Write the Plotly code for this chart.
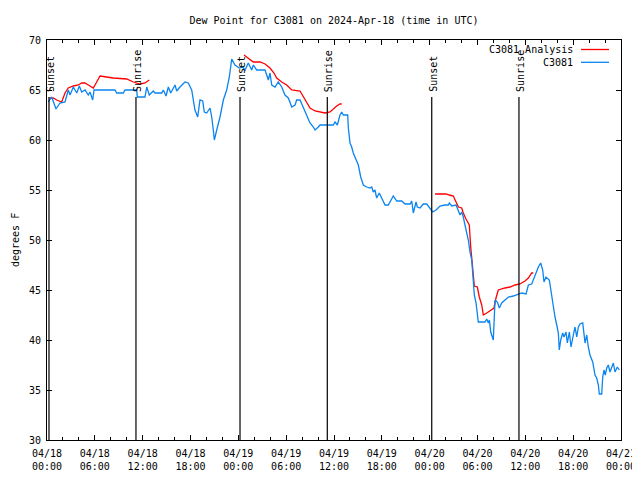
import datetime as dt
import plotly.graph_objects as go

# ---------------- data ----------------
START = dt.datetime(2024, 4, 18, 0, 0)

# Observed dew point (C3081): hours since 2024-04-18 00:00 UTC, degrees F
obs_hours = [0.16, 0.59, 1.13, 1.63, 2.26, 2.67, 2.89, 3.30, 3.73, 4.05, 4.35, 4.77, 5.18, 5.39, 5.73, 5.90,
             8.53, 8.74, 9.57, 9.78, 11.25, 11.33, 12.29, 12.51, 12.83, 13.33, 13.55, 14.39, 14.59, 14.93,
             15.22, 15.52, 16.06, 16.27, 16.68, 17.31, 17.72, 18.15, 18.56, 18.90, 19.19, 19.53, 19.73,
             20.03, 20.45, 20.66, 20.86, 20.99, 21.29, 21.70, 22.12, 22.54, 22.87, 23.17, 23.58, 24.12,
             24.55, 24.84, 25.25, 25.68, 25.88, 26.30, 27.35, 27.56, 27.76, 27.97, 28.19, 28.60, 29.01,
             29.44, 29.85, 30.27, 30.70, 31.11, 31.32, 31.74, 32.15, 32.58, 32.99, 33.41, 33.62, 34.03,
             34.25, 35.91, 36.13, 36.42, 36.75, 36.97, 37.17, 37.72, 37.80, 38.01, 38.22, 38.42, 38.85,
             39.05, 39.35, 39.68, 40.10, 40.52, 40.73, 40.93, 41.14, 41.35, 41.68, 41.98, 42.40, 42.81,
             43.24, 43.44, 43.87, 44.49, 44.91, 45.54, 45.75, 45.95, 46.29, 46.45, 46.79, 47.20, 47.63,
             47.96, 48.38, 48.80, 49.30, 49.93, 50.34, 50.47, 50.77, 51.31, 51.60, 51.81, 52.02, 52.22,
             52.43, 52.65, 52.85, 53.06, 53.28, 53.40, 53.48, 53.60, 53.82, 54.10, 54.94, 55.16, 55.36,
             55.49, 55.66, 55.98, 56.20, 56.49, 56.74, 57.04, 57.45, 57.87, 58.49, 59.12, 59.55, 60.09,
             60.38, 60.80, 61.21, 61.63, 61.93, 62.18, 62.34, 62.59, 63.01, 63.31, 63.51, 63.72, 63.94,
             64.14, 64.26, 64.44, 64.69, 64.85, 65.10, 65.27, 65.52, 65.73, 66.02, 66.23, 66.45, 66.65,
             66.86, 67.20, 67.49, 67.70, 67.90, 68.11, 68.45, 68.74, 68.95, 69.16, 69.28, 69.58, 69.71,
             69.87, 70.03, 70.21, 70.41, 70.62, 71.04, 71.25, 71.54, 71.79]
obs_dewpt = [63.8, 64.3, 63.1, 63.7, 63.8, 65.0, 64.5, 65.3, 64.7, 65.4, 64.8, 65.0, 64.5, 64.8, 64.0, 65.0,
             65.0, 64.7, 64.7, 65.0, 65.0, 64.3, 64.3, 65.3, 64.5, 64.9, 64.7, 64.7, 65.0, 64.4,
             65.3, 64.7, 65.5, 64.9, 65.3, 65.8, 65.7, 65.0, 63.0, 62.3, 64.0, 63.9, 62.8,
             62.7, 63.2, 62.3, 61.0, 60.0, 61.0, 62.3, 64.0, 65.0, 66.3, 68.1, 67.5, 67.2,
             67.3, 67.0, 67.7, 67.0, 67.5, 67.0, 67.0, 66.5, 66.0, 66.7, 65.5, 65.3, 65.8,
             65.3, 64.5, 64.2, 63.3, 63.5, 64.0, 64.0, 63.2, 62.5, 61.7, 61.3, 61.0, 61.3,
             61.5, 61.5, 61.8, 61.5, 62.5, 62.8, 62.5, 62.5, 61.2, 59.7, 59.3, 58.7, 57.8,
             57.5, 56.3, 55.5, 55.3, 55.2, 55.3, 54.8, 55.0, 54.2, 54.7, 54.2, 53.5, 53.5,
             54.2, 54.4, 53.9, 53.9, 53.6, 53.6, 53.9, 52.7, 53.8, 53.3, 53.2, 53.6, 53.6,
             53.2, 52.8, 53.0, 53.4, 53.5, 53.5, 53.7, 53.4, 53.5, 52.9, 52.5, 52.8, 52.3,
             51.5, 50.8, 50.0, 48.8, 48.0, 46.7, 45.5, 44.5, 43.7, 41.8, 41.8, 42.1, 41.7,
             42.0, 40.8, 40.0, 44.0, 43.8, 43.2, 43.7, 44.0, 44.3, 44.4, 44.6, 44.7, 44.6,
             45.5, 45.6, 46.5, 47.3, 47.7, 47.0, 45.8, 46.3, 46.0, 44.3, 43.2, 42.3, 41.5,
             40.7, 39.0, 40.0, 40.7, 40.3, 40.8, 39.7, 40.8, 39.3, 40.5, 41.3, 40.3, 41.3,
             41.6, 41.7, 39.7, 40.5, 39.3, 38.5, 37.8, 36.5, 36.2, 35.5, 34.6, 34.6, 36.3,
             37.0, 36.5, 37.2, 37.5, 36.8, 37.7, 36.8, 37.3, 37.0]

# Analysis dew point (C3081 Analysis); None marks a gap between runs
ana_hours = [0.29, 0.79, 1.22, 1.84, 2.26, 2.67, 3.30, 3.93, 4.35, 4.77, 5.18, 5.81, 6.23, 6.65, 7.49,
             8.32, 10.00, 10.83, 11.67, 12.29, 12.83, None,
             24.71, 25.25, 25.88, 26.72, 27.35, 27.97, 28.47, 28.81, 29.44, 30.07, 30.70, 31.74, 32.15,
             32.58, 32.99, 33.62, 34.25, 34.87, 35.50, 35.91, 36.34, 36.75, 36.97, None,
             48.67, 50.05, 50.47, 50.97, 51.31, 51.60, 52.02, 52.22, 52.56, 52.77, 52.97, 53.15, 53.40,
             53.60, 53.98, 54.23, 54.53, 54.73, 55.16, 55.57, 56.07, 56.32, 56.61, 57.45, 58.08, 58.70,
             59.33, 59.96, 60.38, 60.80, 61.00]
ana_dewpt = [64.2, 64.2, 64.0, 63.8, 64.7, 65.2, 65.4, 65.5, 65.7, 65.7, 65.5, 65.2, 65.8, 66.4, 66.3,
             66.2, 66.1, 65.8, 65.6, 65.7, 66.0, None,
             68.5, 68.2, 67.8, 67.8, 67.6, 67.2, 66.7, 66.2, 65.8, 65.5, 65.0, 64.9, 64.3,
             63.7, 63.2, 62.9, 62.8, 62.7, 62.8, 63.1, 63.4, 63.6, 63.6, None,
             54.6, 54.6, 54.5, 54.4, 53.8, 53.3, 53.2, 52.7, 52.1, 51.7, 51.5, 49.3, 47.3,
             45.4, 45.3, 44.3, 43.5, 42.5, 42.7, 42.9, 43.2, 44.2, 45.0, 45.2, 45.3, 45.5,
             45.6, 45.9, 46.2, 46.7, 46.7]

# Sun events (hours since start)
sun_hours = [0.25, 11.16, 24.21, 35.16, 48.26, 59.20]
sun_labels = ["Sunset", "Sunrise", "Sunset", "Sunrise", "Sunset", "Sunrise"]
sun_line_top = 64.3
sun_label_base = 64.6

series_names = ["C3081 Analysis", "C3081"]
series_colors = ["#ff0000", "#0a84f0"]

y_range = [30, 70]
x_start = START
x_end = START + dt.timedelta(hours=72)


def to_time(hours):
    return [START + dt.timedelta(hours=h) if h is not None else None for h in hours]


FONT = "DejaVu Sans Mono"

fig = go.Figure()
fig.add_trace(go.Scatter(x=to_time(ana_hours), y=ana_dewpt, mode="lines", name=series_names[0],
                         line=dict(color=series_colors[0], width=1.3), connectgaps=False))
fig.add_trace(go.Scatter(x=to_time(obs_hours), y=obs_dewpt, mode="lines", name=series_names[1],
                         line=dict(color=series_colors[1], width=1.3)))

shapes = []
annotations = []
for t, lab in zip(to_time(sun_hours), sun_labels):
    shapes.append(dict(type="line", xref="x", yref="y", x0=t, x1=t, y0=y_range[0], y1=sun_line_top,
                       line=dict(color="black", width=1.2)))
    annotations.append(dict(x=t, y=sun_label_base, xref="x", yref="y", text=lab, textangle=-90,
                            showarrow=False, xanchor="center", yanchor="bottom", xshift=1,
                            font=dict(family=FONT, size=10, color="black")))

# Page is rendered with an 8px body margin: compensate so the plot area
# lands at page x 47..621, y 40..440.
OFF = 8
PAGE_W, PAGE_H = 640, 480
W, H = PAGE_W - OFF, PAGE_H - OFF
PL, PR, PT, PB = 47, 621, 40, 440          # plot area in page pixels
L, T = PL - OFF, PT - OFF
R, B = W - (PR - OFF), H - (PB - OFF)
pw, ph = PR - PL, PB - PT


def px(xp):
    return (xp - PL) / pw


def py(yp):
    return 1 - (yp - PT) / ph


leg_rows = [49.5, 62.3]
for name, color, yp in zip(series_names, series_colors, leg_rows):
    annotations.append(dict(x=px(575), y=py(yp), xref="paper", yref="paper", text=name, showarrow=False,
                            xanchor="right", yanchor="middle", font=dict(family=FONT, size=10, color="black")))
    shapes.append(dict(type="line", xref="paper", yref="paper", x0=px(581), x1=px(609), y0=py(yp), y1=py(yp),
                       line=dict(color=color, width=1.3)))

annotations.append(dict(x=px(15), y=0.5, xref="paper", yref="paper", text="degrees F", textangle=-90,
                        showarrow=False, xanchor="center", yanchor="middle",
                        font=dict(family=FONT, size=10, color="black")))

fig.update_layout(
    width=W, height=H,
    margin=dict(l=L, r=R, t=T, b=B, autoexpand=False),
    paper_bgcolor="white", plot_bgcolor="white",
    showlegend=False,
    font=dict(family=FONT, size=10, color="black"),
    title=dict(text="Dew Point for C3081 on 2024-Apr-18 (time in UTC)", x=px(334), xref="paper",
               xanchor="center", y=1 - (20 - OFF) / H, yanchor="middle",
               font=dict(family=FONT, size=10, color="black")),
    shapes=shapes,
    annotations=annotations,
)
fig.update_xaxes(
    range=[x_start, x_end], type="date",
    dtick=6 * 3600 * 1000, tick0=x_start, tickformat="%m/%d<br>%H:%M",
    ticks="inside", ticklen=5, tickcolor="black", tickwidth=1,
    minor=dict(dtick=2 * 3600 * 1000, ticks="inside", ticklen=3, tickcolor="black", showgrid=False),
    showline=True, linecolor="black", linewidth=1, mirror="allticks",
    showgrid=False, zeroline=False, ticklabelstandoff=4, ticklabeloverflow="allow",
    tickfont=dict(family=FONT, size=10, color="black"),
)
fig.update_yaxes(
    range=y_range, dtick=5, tick0=30,
    ticks="inside", ticklen=5, tickcolor="black", tickwidth=1,
    showline=True, linecolor="black", linewidth=1, mirror="allticks",
    showgrid=False, zeroline=False, ticklabelstandoff=3,
    tickfont=dict(family=FONT, size=10, color="black"),
)

fig.write_html("out.html")
